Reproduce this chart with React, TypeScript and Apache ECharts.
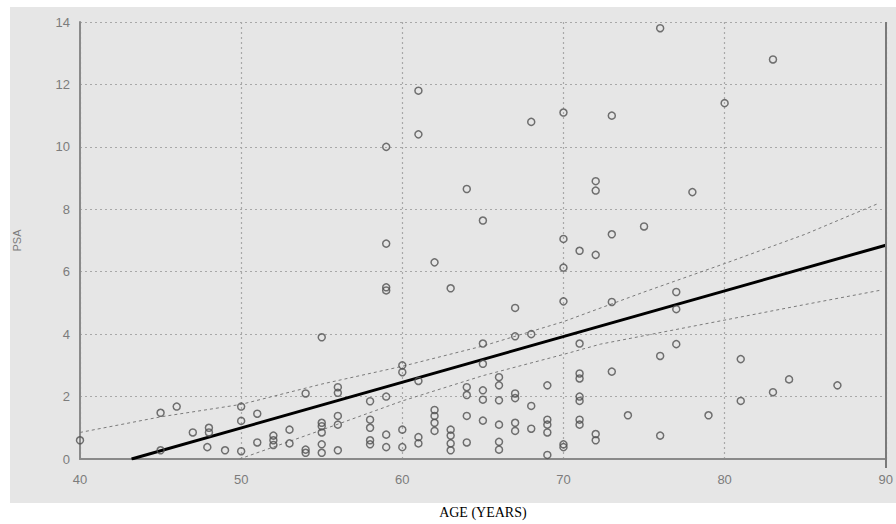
import React, { useEffect, useRef } from "react";
import * as echarts from "echarts";

// Scatter points: age (years) and PSA
const ages = [
  40, 45, 45, 46, 47, 47.9, 48, 48, 49, 50, 50, 50, 51, 51, 52, 52, 52, 53, 53,
  54, 54, 54, 55, 55, 55, 55, 55, 55, 56, 56, 56, 56, 56, 58, 58, 58, 58, 58,
  59, 59, 59, 59, 59, 59, 59, 60, 60, 60, 60, 61, 61, 61, 61, 61,
  62, 62, 62, 62, 62, 63, 63, 63, 63, 63, 64, 64, 64, 64, 64,
  65, 65, 65, 65, 65, 65, 66, 66, 66, 66, 66, 66, 67, 67, 67, 67, 67, 67,
  68, 68, 68, 68, 69, 69, 69, 69, 69, 70, 70, 70, 70, 70, 70,
  71, 71, 71, 71, 71, 71, 71, 71, 72, 72, 72, 72, 72, 73, 73, 73, 73,
  74, 75, 76, 76, 76, 77, 77, 77, 78, 79, 80, 81, 81, 83, 83, 84, 87,
];
const psa = [
  0.6, 1.48, 0.28, 1.68, 0.85, 0.38, 1.0, 0.85, 0.28, 1.68, 1.22, 0.25, 1.45, 0.53, 0.75, 0.6, 0.45, 0.94, 0.5,
  2.1, 0.3, 0.2, 3.9, 1.16, 1.05, 0.85, 0.47, 0.2, 2.3, 2.12, 1.38, 1.1, 0.28, 1.85, 1.26, 1.0, 0.6, 0.47,
  10.0, 6.9, 5.5, 5.4, 2.0, 0.78, 0.38, 3.0, 2.78, 0.94, 0.38, 11.8, 10.4, 2.5, 0.7, 0.5,
  6.3, 1.57, 1.38, 1.16, 0.9, 5.47, 0.94, 0.75, 0.5, 0.28, 8.65, 2.3, 2.05, 1.38, 0.53,
  7.64, 3.7, 3.05, 2.2, 1.9, 1.23, 2.62, 2.36, 1.88, 1.1, 0.55, 0.3, 4.84, 3.93, 2.1, 1.95, 1.16, 0.9,
  10.8, 4.0, 1.7, 0.97, 2.36, 1.26, 1.1, 0.85, 0.13, 11.1, 7.05, 6.13, 5.05, 0.47, 0.38,
  6.67, 3.7, 2.74, 2.58, 2.0, 1.86, 1.26, 1.1, 8.9, 8.6, 6.54, 0.8, 0.6, 11.0, 7.2, 5.03, 2.8,
  1.4, 7.45, 13.8, 3.3, 0.75, 5.35, 4.8, 3.68, 8.55, 1.4, 11.4, 3.2, 1.86, 12.8, 2.14, 2.55, 2.36,
];

// Regression line end points
const fitAges = [43.2, 90];
const fitPsa = [0, 6.85];

// Confidence band (dotted)
const upperAges = [40, 45, 50, 55, 60, 65, 70, 75, 80, 85, 89.6];
const upperPsa = [0.85, 1.35, 1.75, 2.4, 2.97, 3.62, 4.4, 5.35, 6.26, 7.2, 8.2];
const lowerAges = [49.9, 55, 60, 65, 70, 72.3, 80, 85, 89.6];
const lowerPsa = [0, 0.93, 1.86, 2.67, 3.35, 3.68, 4.45, 4.95, 5.4];

const zip = (xs: number[], ys: number[]) => xs.map((x, i) => [x, ys[i]]);

export default function App() {
  const ref = useRef<HTMLDivElement>(null);
  useEffect(() => {
    if (!ref.current) return;
    const chart = echarts.init(ref.current, undefined, { renderer: "svg" });
    const gridLine = { show: true, lineStyle: { color: "#a8a8a8", type: [2, 3] as any, width: 1.2 } };
    const labelStyle = { color: "#7c7c7c", fontSize: 13, fontFamily: "Liberation Sans" };
    chart.setOption({
      animation: false,
      backgroundColor: "#ffffff",
      graphic: [
        {
          type: "rect",
          z: -100,
          silent: true,
          shape: { x: 10, y: 7, width: 886, height: 496 },
          style: { fill: "#e6e6e6" },
        },
        {
          type: "line",
          z: 100,
          silent: true,
          shape: { x1: 886, y1: 22, x2: 886, y2: 468 },
          style: { stroke: "#7a7a7a", lineWidth: 2 },
        },
      ],
      grid: { left: 80, right: 10, top: 22, bottom: 57, containLabel: false },
      xAxis: {
        type: "value",
        min: 40,
        max: 90,
        interval: 10,
        name: "AGE (YEARS)",
        nameLocation: "middle",
        nameGap: 46,
        nameTextStyle: { fontFamily: "Liberation Serif", fontSize: 14, color: "#000" },
        axisLine: { show: true, onZero: false, lineStyle: { color: "#8a8a8a", width: 2 } },
        axisTick: { show: false },
        axisLabel: { ...labelStyle, margin: 14 },
        splitLine: gridLine,
      },
      yAxis: {
        type: "value",
        min: 0,
        max: 14,
        interval: 2,
        name: "PSA",
        nameLocation: "middle",
        nameRotate: 90,
        nameGap: 58,
        nameTextStyle: { fontFamily: "Liberation Sans", fontSize: 11, color: "#7c7c7c" },
        axisLine: { show: true, lineStyle: { color: "#8a8a8a", width: 2 } },
        axisTick: { show: false },
        axisLabel: { ...labelStyle, margin: 10 },
        splitLine: gridLine,
      },
      series: [
        {
          type: "line",
          data: zip(upperAges, upperPsa),
          symbol: "none",
          lineStyle: { color: "#7a7a7a", width: 1, type: [3, 3] },
          z: 3,
        },
        {
          type: "line",
          data: zip(lowerAges, lowerPsa),
          symbol: "none",
          lineStyle: { color: "#7a7a7a", width: 1, type: [3, 3] },
          z: 3,
        },
        {
          type: "line",
          data: zip(fitAges, fitPsa),
          symbol: "none",
          lineStyle: { color: "#000", width: 3 },
          z: 4,
        },
        {
          type: "scatter",
          data: zip(ages, psa),
          symbol: "circle",
          symbolSize: 7,
          itemStyle: { color: "rgba(0,0,0,0)", borderColor: "#505050", borderWidth: 1.5 },
          z: 5,
        },
      ],
    });
    return () => chart.dispose();
  }, []);
  return (
    <div
      ref={ref}
      style={{ position: "fixed", left: 0, top: 0, width: 896, height: 524 }}
    />
  );
}
